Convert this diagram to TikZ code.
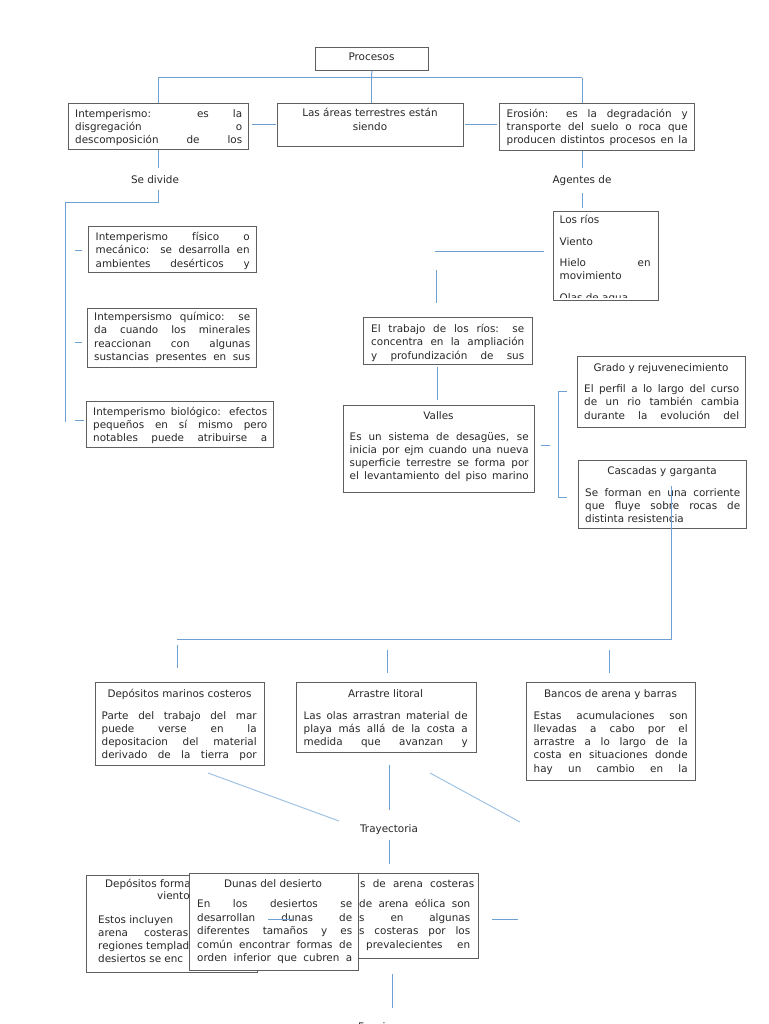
\documentclass[tikz,border=0pt]{standalone}
\usepackage{fontspec}
\setmainfont{DejaVu Sans}
\definecolor{connblue}{RGB}{110,160,210}
\definecolor{connlight}{RGB}{160,195,228}
\definecolor{boxgray}{RGB}{95,95,95}
\definecolor{txtgray}{RGB}{40,40,40}
\newcommand\fsz[1]{\fontsize{10.4pt}{#1pt}\selectfont}
\newcommand\J[2]{{\spaceskip=0pt\xspaceskip=0pt\makebox[#1pt][s]{#2}}}
\newcommand\sr{\rule{0pt}{10pt}}
\begin{document}
\begin{tikzpicture}[x=1pt,y=-1pt,
  conn/.style={draw=connblue,line width=1pt},
  diag/.style={draw=connlight,line width=1pt},
  bx/.style={draw=boxgray,fill=white,line width=0.8pt,inner sep=0pt,anchor=north west},
  txt/.style={inner sep=0pt,anchor=north west,text=txtgray,font=\fsz{13.2}},
  ttl/.style={inner sep=0pt,anchor=base,text=txtgray,font=\fsz{13.2}},
  frag/.style={inner sep=0pt,anchor=base west,text=txtgray,font=\fsz{13.2}},
]
\useasboundingbox (0,0) rectangle (768,1024);
\fill[white] (0,0) rectangle (768,1024);
\clip (0,0) rectangle (768,1024);

% ---------- top row
\node[bx,minimum width=113pt,minimum height=23pt] (proc) at (315,47) {};
\node[ttl] (procT) at (371.5,61) {Procesos};

\node[bx,minimum width=180pt,minimum height=46pt] (intem) at (68,103) {};
\node[txt,text width=167pt] (intemT) at (75,107) {\sr\J{167}{Intemperismo: es la}\\\J{167}{disgregación o}\\\J{167}{descomposición de los}};

\node[bx,minimum width=186pt,minimum height=43pt] (areas) at (277,103) {};
\node[ttl] (areasT1) at (370,117) {Las áreas terrestres están};
\node[ttl] (areasT2) at (370,130.5) {siendo};

\node[bx,minimum width=195pt,minimum height=47pt] (eros) at (499,103) {};
\node[txt,text width=181pt] (erosT) at (506.5,107) {\sr\J{181}{Erosión: es la degradación y}\\\J{181}{transporte del suelo o roca que}\\\J{181}{producen distintos procesos en la}};

\node[ttl] (sediv) at (155,184) {Se divide};
\node[ttl] (agentes) at (582,184) {Agentes de};

% ---------- left column
\node[bx,minimum width=168pt,minimum height=46pt] (fis) at (88,226) {};
\node[txt,text width=154pt] (fisT) at (95.5,230.5) {\sr\J{154}{Intemperismo físico o}\\\J{154}{mecánico: se desarrolla en}\\\J{154}{ambientes desérticos y}};

\node[bx,minimum width=169pt,minimum height=59pt] (qui) at (87,308) {};
\node[txt,text width=156pt] (quiT) at (94,310.5) {\sr\J{156}{Intempersismo químico: se}\\\J{156}{da cuando los minerales}\\\J{156}{reaccionan con algunas}\\\J{156}{sustancias presentes en sus}};

\node[bx,minimum width=187pt,minimum height=46pt] (bio) at (86,401) {};
\node[txt,text width=174pt] (bioT) at (93,405) {\sr\J{174}{Intemperismo biológico: efectos}\\\J{174}{pequeños en sí mismo pero}\\\J{174}{notables puede atribuirse a}};

% ---------- agents
\node[bx,minimum width=105pt,minimum height=89pt] (agbox) at (553,211) {};
\begin{scope}
\clip (554,212) rectangle (657,297);
\node[frag] (ag1) at (559.5,224) {Los ríos};
\node[frag] (ag2) at (559.5,245.5) {Viento};
\node[frag] (ag3) at (559.5,266) {\J{91}{Hielo en}};
\node[frag] (ag4) at (559.5,279.5) {movimiento};
\node[frag] (ag5) at (559.5,301) {Olas de agua};
\end{scope}

\node[bx,minimum width=169pt,minimum height=47pt] (trab) at (363,317) {};
\node[txt,text width=153pt] (trabT) at (371,322.5) {\sr\J{153}{El trabajo de los ríos: se}\\\J{153}{concentra en la ampliación}\\\J{153}{y profundización de sus}};

\node[bx,minimum width=191pt,minimum height=87pt] (valles) at (343,405) {};
\node[ttl] (vallesH) at (438.5,419) {Valles};
\node[txt,text width=179pt] (vallesT) at (349.5,430) {\sr\J{179}{Es un sistema de desagües, se}\\\J{179}{inicia por ejm cuando una nueva}\\\J{179}{superficie terrestre se forma por}\\\J{179}{el levantamiento del piso marino}};

\node[bx,minimum width=168pt,minimum height=71pt] (grado) at (577,356) {};
\node[ttl] (gradoH) at (661,371) {Grado y rejuvenecimiento};
\node[txt,text width=155pt] (gradoT) at (584,382.5) {\sr\J{155}{El perfil a lo largo del curso}\\\J{155}{de un rio también cambia}\\\J{155}{durante la evolución del}};

\node[bx,minimum width=168pt,minimum height=68pt] (casc) at (578,460) {};
\node[ttl] (cascH) at (662,474) {Cascadas y garganta};
\node[txt,text width=155pt] (cascT) at (585,486) {\sr\J{155}{Se forman en una corriente}\\\J{155}{que fluye sobre rocas de}\\distinta resistencia};

% ---------- deposits row
\node[bx,minimum width=169pt,minimum height=83pt] (depm) at (95,682) {};
\node[ttl] (depmH) at (179.5,697) {Depósitos marinos costeros};
\node[txt,text width=155pt] (depmT) at (101.5,709) {\sr\J{155}{Parte del trabajo del mar}\\\J{155}{puede verse en la}\\\J{155}{depositacion del material}\\\J{155}{derivado de la tierra por}};

\node[bx,minimum width=180pt,minimum height=70pt] (arr) at (295.5,682) {};
\node[ttl] (arrH) at (385.5,697) {Arrastre litoral};
\node[txt,text width=164pt] (arrT) at (303.5,709) {\sr\J{164}{Las olas arrastran material de}\\\J{164}{playa más allá de la costa a}\\\J{164}{medida que avanzan y}};

\node[bx,minimum width=169pt,minimum height=98pt] (banc) at (526,682) {};
\node[ttl] (bancH) at (610.5,697) {Bancos de arena y barras};
\node[txt,text width=154pt] (bancT) at (533.5,709) {\sr\J{154}{Estas acumulaciones son}\\\J{154}{llevadas a cabo por el}\\\J{154}{arrastre a lo largo de la}\\\J{154}{costa en situaciones donde}\\\J{154}{hay un cambio en la}};

\node[ttl] (tray) at (389,832) {Trayectoria};

% ---------- bottom row (overlapping)
\node[bx,minimum width=171pt,minimum height=97pt] (depv) at (86,875) {};
\node[frag] (depvH1) at (105,887) {Depósitos forma};
\node[frag] (depvH2) at (157,899.5) {viento};
\node[frag] (depv1) at (98,923.5) {Estos incluyen};
\node[frag] (depv2) at (98,936.5) {\J{90}{arena costeras}};
\node[frag] (depv3) at (98,949.5) {regiones templad};
\node[frag] (depv4) at (98,962.5) {desiertos se enc};

\node[bx,minimum width=158pt,minimum height=85pt] (dcost) at (320,873) {};
\node[frag] (dcostH) at (360,887) {\J{114}{s de arena costeras}};
\node[frag] (dcost1) at (359,907.5) {\J{111}{de arena eólica son}};
\node[frag] (dcost2) at (359,921) {\J{111}{s en algunas}};
\node[frag] (dcost3) at (359,934.5) {\J{111}{s costeras por los}};
\node[frag] (dcost4) at (366,948) {\J{104}{prevalecientes en}};

\node[bx,minimum width=169pt,minimum height=97pt] (dunas) at (188.5,873) {};
\node[ttl] (dunasH) at (273,887) {Dunas del desierto};
\node[txt,text width=155pt,font=\fsz{13.5}] (dunasT) at (197,897.5) {\sr\J{155}{En los desiertos se}\\\J{155}{desarrollan dunas de}\\\J{155}{diferentes tamaños y es}\\\J{155}{común encontrar formas de}\\\J{155}{orden inferior que cubren a}};

\node[ttl] (func) at (394.5,1030) {Funciones por};

% ---------- connectors
\coordinate (bT) at (371.5,78);
\coordinate (bL) at (158,78);
\coordinate (bR) at (582,78);
\draw[conn] (proc.south) -- (bT);
\draw[conn] (bL) -- (bR);
\draw[conn] (bL) -- (bL |- intem.north);
\draw[conn] (bT) -- (bT |- areas.north);
\draw[conn] (bR) -- (bR |- eros.north);

\coordinate (l1a) at (252,125); \coordinate (l1b) at (276,125);
\coordinate (l2a) at (465,125); \coordinate (l2b) at (497,125);
\draw[conn] (l1a) -- (l1b);
\draw[conn] (l2a) -- (l2b);

\coordinate (sd1) at (158,150); \coordinate (sd2) at (158,168);
\coordinate (sd3) at (158,190); \coordinate (sd4) at (158,203);
\coordinate (sd5) at (65,203);  \coordinate (sd6) at (65,422);
\draw[conn] (sd1) -- (sd2);
\draw[conn] (sd3) -- (sd4) -- (sd5) -- (sd6);
\coordinate (tk1a) at (75,250); \coordinate (tk1b) at (82,250);
\coordinate (tk2a) at (75,342); \coordinate (tk2b) at (82,342);
\coordinate (tk3a) at (75,420); \coordinate (tk3b) at (84,420);
\draw[conn] (tk1a) -- (tk1b);
\draw[conn] (tk2a) -- (tk2b);
\draw[conn] (tk3a) -- (tk3b);

\coordinate (ag1a) at (582,151); \coordinate (ag1b) at (582,168);
\coordinate (ag2a) at (582,193); \coordinate (ag2b) at (582,208);
\draw[conn] (ag1a) -- (ag1b);
\draw[conn] (ag2a) -- (ag2b);

\coordinate (rh1) at (435,251); \coordinate (rh2) at (544,251);
\coordinate (rv1) at (436,270); \coordinate (rv2) at (436,303);
\coordinate (tv1) at (437,367); \coordinate (tv2) at (437,400);
\draw[conn] (rh1) -- (rh2);
\draw[conn] (rv1) -- (rv2);
\draw[conn] (tv1) -- (tv2);

\coordinate (vt1) at (541,445); \coordinate (vt2) at (550,445);
\coordinate (br1) at (567,391); \coordinate (br2) at (558,391);
\coordinate (br3) at (558,497); \coordinate (br4) at (567,497);
\draw[conn] (vt1) -- (vt2);
\draw[conn] (br1) -- (br2) -- (br3) -- (br4);

\coordinate (cd1) at (671,486); \coordinate (cd2) at (671,639);
\coordinate (cd3) at (177,639);
\draw[conn] (cd1) -- (cd2) -- (cd3);
\coordinate (s1a) at (177,645); \coordinate (s1b) at (177,668);
\coordinate (s2a) at (387,650); \coordinate (s2b) at (387,673);
\coordinate (s3a) at (609,650); \coordinate (s3b) at (609,673);
\draw[conn] (s1a) -- (s1b);
\draw[conn] (s2a) -- (s2b);
\draw[conn] (s3a) -- (s3b);

\coordinate (dg1a) at (208,773); \coordinate (dg1b) at (339,821);
\coordinate (tm1) at (389,765);  \coordinate (tm2) at (389,810);
\coordinate (dg2a) at (430,773); \coordinate (dg2b) at (520,822);
\coordinate (tb1) at (389,840);  \coordinate (tb2) at (389,864);
\draw[diag] (dg1a) -- (dg1b);
\draw[conn] (tm1) -- (tm2);
\draw[diag] (dg2a) -- (dg2b);
\draw[conn] (tb1) -- (tb2);

\coordinate (dl1) at (268,919); \coordinate (dl2) at (293,919);
\coordinate (dr1) at (492,919); \coordinate (dr2) at (518,919);
\coordinate (fv1) at (392,974); \coordinate (fv2) at (392,1008);
\draw[conn] (dl1) -- (dl2);
\draw[conn] (dr1) -- (dr2);
\draw[conn] (fv1) -- (fv2);
\end{tikzpicture}
\end{document}
